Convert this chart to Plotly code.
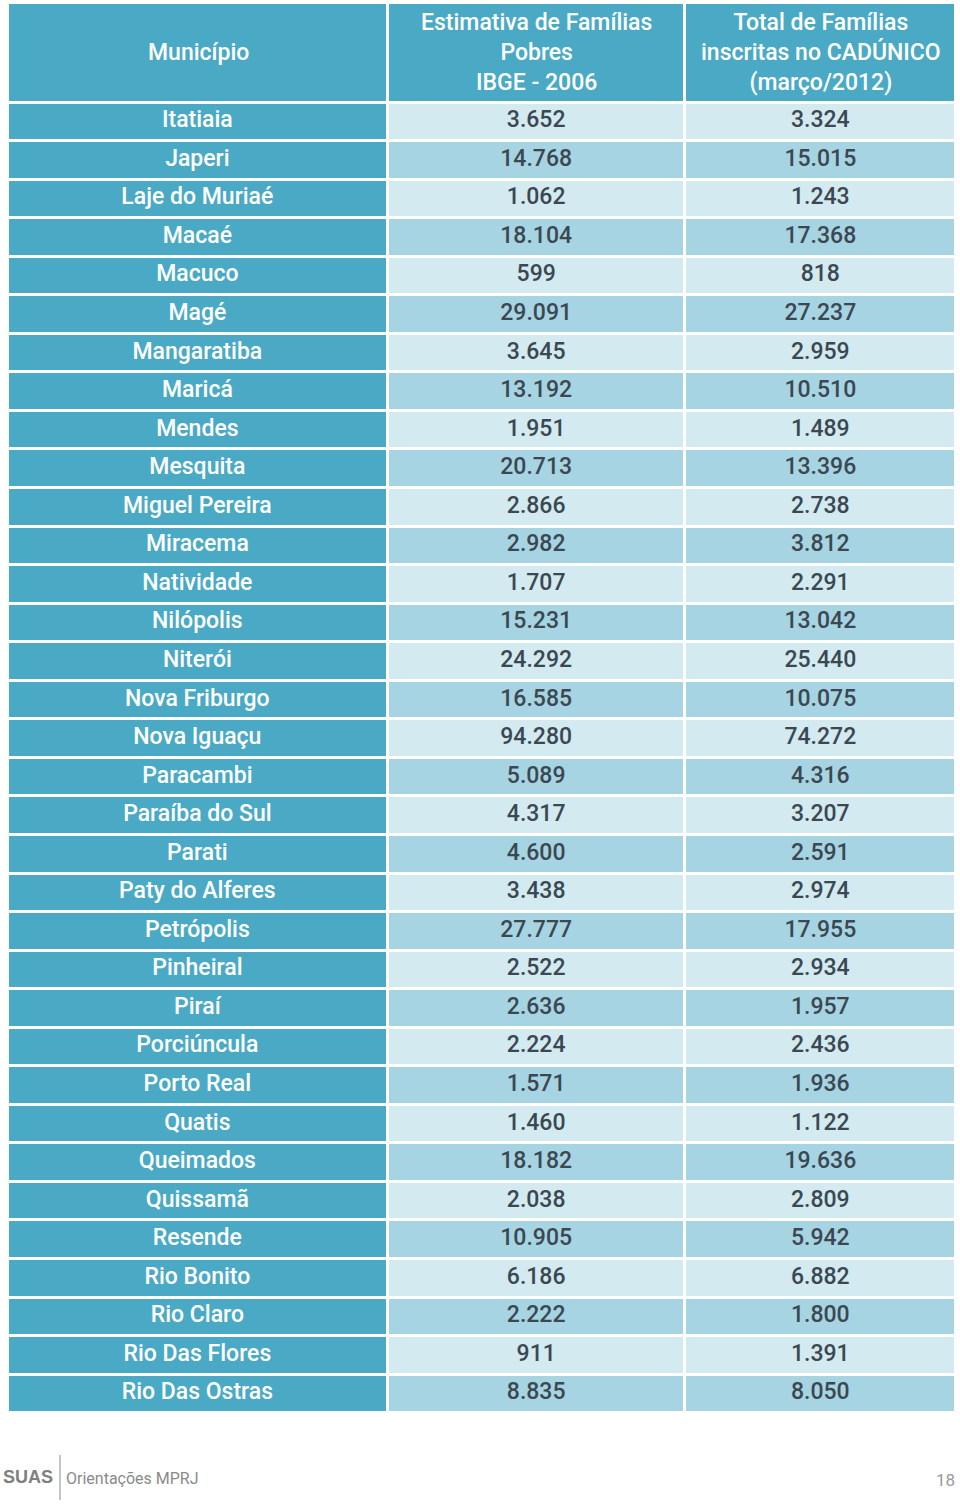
import plotly.graph_objects as go

municipios = ["Itatiaia", "Japeri", "Laje do Muriaé", "Macaé", "Macuco", "Magé", "Mangaratiba",
              "Maricá", "Mendes", "Mesquita", "Miguel Pereira", "Miracema", "Natividade",
              "Nilópolis", "Niterói", "Nova Friburgo", "Nova Iguaçu", "Paracambi",
              "Paraíba do Sul", "Parati", "Paty do Alferes", "Petrópolis", "Pinheiral",
              "Piraí", "Porciúncula", "Porto Real", "Quatis", "Queimados", "Quissamã",
              "Resende", "Rio Bonito", "Rio Claro", "Rio Das Flores", "Rio Das Ostras"]
estimativa = ["3.652", "14.768", "1.062", "18.104", "599", "29.091", "3.645", "13.192", "1.951",
              "20.713", "2.866", "2.982", "1.707", "15.231", "24.292", "16.585", "94.280",
              "5.089", "4.317", "4.600", "3.438", "27.777", "2.522", "2.636", "2.224", "1.571",
              "1.460", "18.182", "2.038", "10.905", "6.186", "2.222", "911", "8.835"]
cadunico = ["3.324", "15.015", "1.243", "17.368", "818", "27.237", "2.959", "10.510", "1.489",
            "13.396", "2.738", "3.812", "2.291", "13.042", "25.440", "10.075", "74.272",
            "4.316", "3.207", "2.591", "2.974", "17.955", "2.934", "1.957", "2.436", "1.936",
            "1.122", "19.636", "2.809", "5.942", "6.882", "1.800", "1.391", "8.050"]
headers = ["Município", "Estimativa de Famílias<br>Pobres<br>IBGE - 2006",
           "Total de Famílias<br>inscritas no CADÚNICO<br>(março/2012)"]

HEAD = "#4aaac5"
LIGHT = "#d3eaf1"
MID = "#a7d4e2"
TEXT = "#3b4852"
n = len(municipios)
alt = [LIGHT if i % 2 == 0 else MID for i in range(n)]

FF = "Roboto"
W, H = 960, 1504

fig = go.Figure(go.Table(
    domain=dict(x=[7 / W, 956 / W], y=[0.05, 1 - 2 / H]),
    columnwidth=[379.5, 296, 270.5],
    header=dict(
        values=["", "", ""],
        fill_color=HEAD,
        line=dict(color="white", width=3),
        align="center",
        height=100,
        font=dict(family=FF, size=22, color="white"),
    ),
    cells=dict(
        values=[municipios, estimativa, cadunico],
        fill_color=[[HEAD] * n, alt, alt],
        line=dict(color="white", width=3),
        align="center",
        height=38.55,
        font=dict(family=FF, size=23, color=["white", TEXT, TEXT], weight=500),
    ),
))

# header labels (centred in each header cell)
header_centers = [198, 536.5, 820.5]
for label, cx in zip(headers, header_centers):
    fig.add_annotation(xref="paper", yref="paper", x=cx / W, y=1 - 53 / H,
                       xanchor="center", yanchor="middle", align="center",
                       text=label, showarrow=False,
                       font=dict(family=FF, size=23, color="white", weight=500))

# footer
fig.add_annotation(xref="paper", yref="paper", x=1 / W, y=1 - 1477 / H, xanchor="left", yanchor="middle",
                   text="<b>SUAS</b>", showarrow=False,
                   font=dict(family="Liberation Sans", size=18, color="#808080"))
fig.add_annotation(xref="paper", yref="paper", x=64 / W, y=1 - 1478 / H, xanchor="left", yanchor="middle",
                   text="Orientações MPRJ", showarrow=False,
                   font=dict(family="Roboto", size=16, color="#8a8a8a"))
fig.add_annotation(xref="paper", yref="paper", x=945 / W, y=1 - 1480 / H, xanchor="center", yanchor="middle",
                   text="18", showarrow=False,
                   font=dict(family="Roboto", size=17, color="#9a9a9a"))
fig.add_shape(type="line", xref="paper", yref="paper", x0=60 / W, x1=60 / W,
              y0=1 - 1500 / H, y1=1 - 1455 / H,
              line=dict(color="#8a8a8a", width=1))

fig.update_layout(width=W, height=H, margin=dict(l=0, r=0, t=0, b=0),
                  paper_bgcolor="white", plot_bgcolor="white")
fig.write_html("out.html", config={"displayModeBar": False},
               post_script="document.body.style.margin='0';document.body.style.overflow='hidden';")
